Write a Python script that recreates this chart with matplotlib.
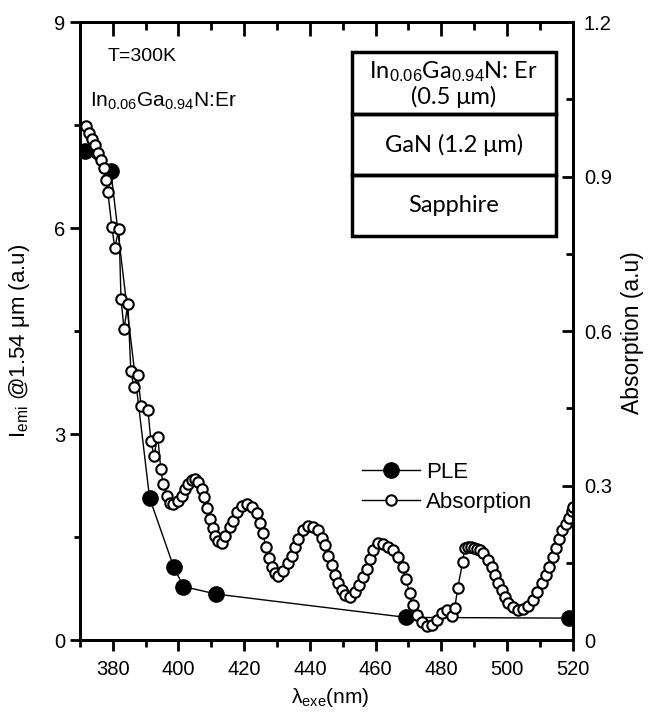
import matplotlib
matplotlib.use("Agg")
import matplotlib.pyplot as plt
from matplotlib.patches import Rectangle
from matplotlib.ticker import MultipleLocator, FuncFormatter

plt.rcParams["font.family"] = ["Liberation Sans", "DejaVu Sans"]
plt.rcParams["mathtext.fontset"] = "custom"
plt.rcParams["mathtext.rm"] = "Liberation Sans"
plt.rcParams["mathtext.it"] = "Liberation Sans:italic"

# ---- PLE (left axis) ----
ple_wl = [371.5, 379.4, 391.2, 398.5, 401.5, 411.5, 469.4, 519.0]
ple_int = [7.12, 6.83, 2.07, 1.07, 0.78, 0.67, 0.33, 0.32]

# ---- absorption (right axis) ----
abs_wl = [371.8, 372.7, 373.7, 374.6, 375.5, 376.4, 377.3, 377.9, 378.5, 379.7,
          380.6, 381.9, 382.5, 383.4, 384.6, 385.5, 386.4, 387.6, 388.6, 390.7,
          391.6, 392.5, 393.7, 394.6, 395.3, 396.5, 397.4, 398.3, 399.8, 401.0,
          401.9, 402.9, 404.1, 405.0, 405.9, 407.1, 407.7, 408.6, 409.5, 410.5,
          411.1, 412.0, 413.2, 414.1, 415.6, 416.5, 417.8, 419.3, 420.8, 422.3,
          423.8, 424.8, 425.7, 426.6, 427.5, 428.4, 429.3, 430.2, 431.8, 433.3,
          434.5, 435.4, 436.3, 437.8, 439.4, 440.9, 442.4, 443.6, 444.5, 445.4,
          446.7, 447.6, 448.5, 449.7, 450.6, 452.1, 453.7, 454.9, 456.1, 457.3,
          458.2, 459.1, 460.7, 462.2, 463.7, 465.2, 466.7, 468.3, 469.2, 470.4,
          471.3, 472.5, 474.0, 475.6, 477.1, 478.6, 480.1, 481.7, 483.2, 484.1,
          485.0, 486.5, 487.1, 488.0, 489.0, 489.9, 490.8, 491.7, 492.6, 494.1,
          495.3, 496.3, 497.2, 498.4, 499.3, 500.2, 501.7, 503.3, 504.8, 506.3,
          507.8, 509.0, 510.6, 511.8, 512.7, 513.9, 514.8, 515.7, 516.9, 517.9,
          518.8, 519.7, 520.0]
abs_val = [0.998, 0.985, 0.973, 0.961, 0.946, 0.932, 0.917, 0.894, 0.870, 0.803,
           0.762, 0.799, 0.662, 0.605, 0.652, 0.522, 0.491, 0.515, 0.455, 0.447,
           0.387, 0.358, 0.395, 0.333, 0.304, 0.280, 0.267, 0.265, 0.271, 0.280,
           0.294, 0.304, 0.311, 0.313, 0.306, 0.294, 0.277, 0.257, 0.236, 0.217,
           0.203, 0.193, 0.188, 0.203, 0.219, 0.232, 0.248, 0.261, 0.265, 0.259,
           0.246, 0.228, 0.207, 0.180, 0.159, 0.141, 0.130, 0.124, 0.135, 0.149,
           0.164, 0.180, 0.197, 0.213, 0.222, 0.220, 0.213, 0.199, 0.184, 0.164,
           0.145, 0.126, 0.110, 0.097, 0.087, 0.083, 0.093, 0.106, 0.122, 0.139,
           0.157, 0.174, 0.188, 0.186, 0.180, 0.174, 0.161, 0.141, 0.118, 0.091,
           0.068, 0.048, 0.035, 0.027, 0.029, 0.039, 0.052, 0.058, 0.046, 0.062,
           0.101, 0.151, 0.178, 0.180, 0.180, 0.178, 0.176, 0.174, 0.170, 0.155,
           0.141, 0.126, 0.110, 0.097, 0.083, 0.072, 0.064, 0.058, 0.060, 0.066,
           0.077, 0.093, 0.110, 0.126, 0.141, 0.161, 0.178, 0.197, 0.213, 0.226,
           0.238, 0.251, 0.259]

layers = [r"In$_{0.06}$Ga$_{0.94}$N: Er" + "\n(0.5 μm)", "GaN (1.2 μm)", "Sapphire"]

fig = plt.figure(figsize=(6.5, 7.12), dpi=100)
ax = fig.add_axes([0.123, 0.101, 0.758, 0.868])
ax2 = ax.twinx()
ax3 = ax.twiny()  # only for the inward top ticks

l1, = ax.plot(ple_wl, ple_int, "-", color="black", lw=1.0, marker="o",
              ms=11, mfc="black", mec="black", label="PLE")
l2, = ax2.plot(abs_wl, abs_val, "-", color="black", lw=1.0, marker="o",
               ms=7.5, mfc="white", mec="black", mew=1.5, label="Absorption")

ax.set_xlim(370, 520)
ax3.set_xlim(370, 520)
ax.set_ylim(0, 9)
ax2.set_ylim(0, 1.2)

for a in (ax, ax3):
    a.xaxis.set_major_locator(MultipleLocator(20))
    a.xaxis.set_minor_locator(MultipleLocator(10))
ax.yaxis.set_major_locator(MultipleLocator(3))
ax.yaxis.set_minor_locator(MultipleLocator(1.5))
ax2.yaxis.set_major_locator(MultipleLocator(0.3))
ax2.yaxis.set_minor_locator(MultipleLocator(0.15))
ax2.yaxis.set_major_formatter(FuncFormatter(lambda v, p: "0" if abs(v) < 1e-9 else f"{v:.1f}"))

for a in (ax, ax2, ax3):
    for s in a.spines.values():
        s.set_linewidth(2.0)

ax.tick_params(which="both", labelsize=14.5, width=2.0, direction="out")
ax.tick_params(axis="x", which="major", length=8, pad=6)
ax.tick_params(axis="x", which="minor", length=5)
ax.tick_params(axis="y", which="major", length=7)
ax.tick_params(axis="y", which="minor", length=4)
ax2.tick_params(which="both", labelsize=14.5, width=2.0, direction="in")
ax2.tick_params(which="major", length=8, pad=8)
ax2.tick_params(which="minor", length=5)
ax3.tick_params(which="both", width=2.0, direction="in", labeltop=False)
ax3.tick_params(which="major", length=10)
ax3.tick_params(which="minor", length=6)

# labels
fig.text(20 / 650, 1 - 341 / 712, r"I$_{\rm emi}$ @1.54 μm (a.u)", rotation=90,
         ha="center", va="center", fontsize=16)
fig.text(632 / 650, 1 - 333 / 712, "Absorption (a.u)", rotation=90,
         ha="center", va="center", fontsize=16.5)
fig.text(330 / 650, 1 - 686 / 712, r"λ$_{\rm exe}$(nm)", ha="center", va="top",
         fontsize=15)

ax.text(378.5, 8.5, "T=300K", fontsize=14, ha="left", va="center")
ax.text(373.0, 7.85, r"In$_{0.06}$Ga$_{0.94}$N:Er", fontsize=15, ha="left",
        va="center")

# layer stack inset
x0, x1 = 0.552, 0.966
edges = [0.951, 0.851, 0.752, 0.654]
for i, name in enumerate(layers):
    tp, bt = edges[i], edges[i + 1]
    ax.add_patch(Rectangle((x0, bt), x1 - x0, tp - bt, transform=ax.transAxes,
                           fill=False, lw=2.5, ec="black", zorder=5))
    ax.text((x0 + x1) / 2, (tp + bt) / 2, name, transform=ax.transAxes,
            ha="center", va="center", fontsize=17, linespacing=1.1,
            family=["Lato", "DejaVu Sans"], zorder=6)

ax2.legend([l1, l2], ["PLE", "Absorption"], loc="upper left",
           bbox_to_anchor=(0.572, 0.288), frameon=False, fontsize=16,
           handlelength=2.6, handletextpad=0.3, borderpad=0, borderaxespad=0,
           labelspacing=0.4)

fig.savefig("out.png", dpi=100)
